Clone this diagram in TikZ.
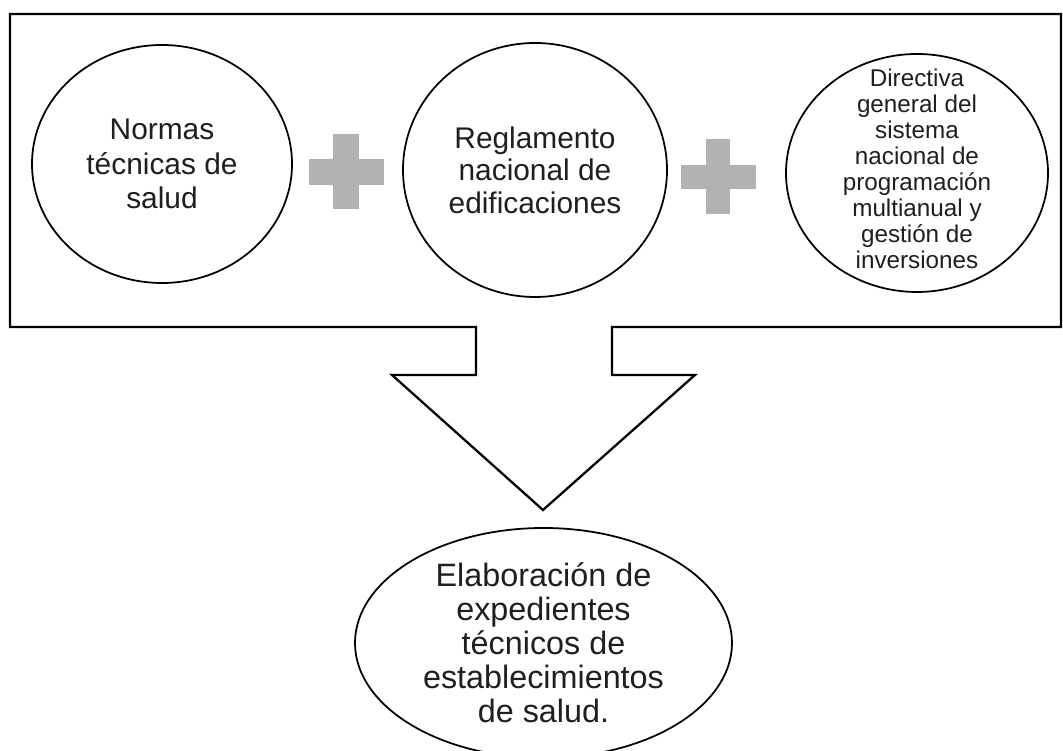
\documentclass[tikz,border=0pt]{standalone}
\usepackage{fontspec}
\setmainfont{Liberation Sans}
\usetikzlibrary{shapes.geometric}
\definecolor{plusgray}{RGB}{178,178,178}
\tikzset{
  bubble/.style={draw=black, line width=1pt, ellipse, fill=white, inner sep=0pt},
  bubbletext/.style={align=center, inner sep=0pt, text=black!88},
  plussign/.style={fill=plusgray, draw=none}
}
\begin{document}
\begin{tikzpicture}
\useasboundingbox (0,0) rectangle (21.26,15.02);

% frame with the big arrow cut out of its bottom edge
\draw[black, line width=1.3pt, fill=white, line join=miter]
  (9.52,8.48) -- (0.2,8.48) -- (0.2,14.74) -- (21.22,14.74) -- (21.22,8.48)
  -- (12.24,8.48) -- (12.24,7.52) -- (13.9,7.52) -- (10.86,4.82)
  -- (7.84,7.52) -- (9.52,7.52) -- cycle;

% the three inputs
\node[bubble, minimum width=5.2cm, minimum height=4.76cm] (normas) at (3.24,11.74) {};
\node[bubbletext, font=\fontsize{17}{19.5}\selectfont] (normastext) at (normas)
  {Normas\\técnicas de\\salud};

\node[bubble, minimum width=5.28cm, minimum height=5.08cm] (reglamento) at (10.7,11.62) {};
\node[bubbletext, font=\fontsize{17}{18.5}\selectfont] (reglamentotext) at (reglamento)
  {Reglamento\\nacional de\\edificaciones};

\node[bubble, minimum width=5.24cm, minimum height=4.76cm] (directiva) at (18.34,11.56) {};
\node[bubbletext, font=\fontsize{13.8}{14.8}\selectfont] (directivatext) at ([yshift=0.08cm]directiva)
  {Directiva\\general del\\sistema\\nacional de\\programación\\multianual y\\gestión de\\inversiones};

% plus signs
\fill[plussign] (6.66,10.83) rectangle (7.18,12.33);
\fill[plussign] (6.17,11.32) rectangle (7.67,11.84);
\fill[plussign] (14.12,10.73) rectangle (14.6,12.23);
\fill[plussign] (13.61,11.24) rectangle (15.11,11.72);

% result
\node[bubble, minimum width=7.54cm, minimum height=4.6cm] (expedientes) at (10.87,2.16) {};
\node[bubbletext, font=\fontsize{18.4}{19.3}\selectfont] (expedientestext) at (expedientes)
  {Elaboración de\\expedientes\\técnicos de\\establecimientos\\de salud.};
\end{tikzpicture}
\end{document}
